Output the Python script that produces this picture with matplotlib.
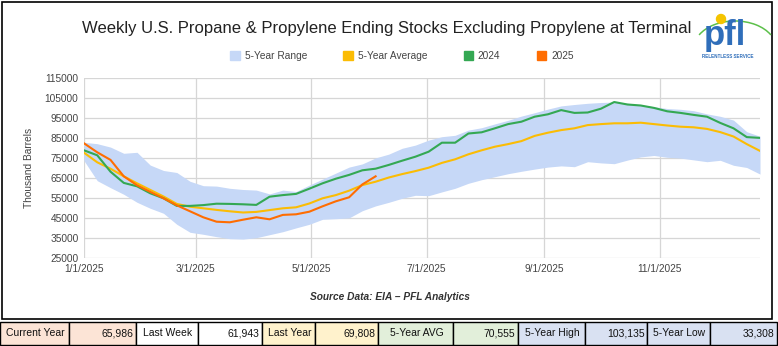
import numpy as np
import pandas as pd
import matplotlib
matplotlib.use('Agg')
import matplotlib.pyplot as plt
from matplotlib.patches import Rectangle, Patch, Circle, Arc

plt.rcParams['font.family'] = ['Liberation Sans', 'DejaVu Sans']

W, H = 778, 346

# weekly points, thousand barrels
weeks = pd.date_range('2025-01-01', periods=52, freq='7D')

range_high = [83000, 82300, 80600, 77500, 78000, 71600, 68900, 67900, 63500, 61300,
              61100, 60000, 59400, 59100, 57200, 59100, 58400, 61600, 64600, 67600,
              70600, 72200, 75200, 77100, 80000, 81600, 84100, 85800, 86500, 89100,
              90300, 92200, 94000, 96100, 97800, 99600, 101200, 101900, 102500, 102900,
              103135, 102500, 101700, 100800, 99900, 99500, 98800, 97200, 96000, 94100,
              88300, 86000]
range_low = [73800, 63800, 60300, 57000, 53000, 50000, 47500, 42000, 38000, 37000,
             35800, 34800, 34600, 35300, 36800, 38300, 40200, 42000, 44500, 44800,
             45200, 48800, 51200, 53000, 55000, 56500, 56300, 58200, 60000, 62500,
             64300, 65800, 67300, 68500, 69600, 70600, 71200, 70800, 73300, 72700,
             72300, 74100, 75700, 76400, 75500, 75100, 74200, 73300, 74000, 71500,
             70400, 67100]
avg_5yr = [77800, 73000, 69800, 66000, 62500, 59200, 55900, 52200, 50800, 50000,
           49200, 48500, 47900, 48200, 49100, 50000, 50500, 52400, 55000, 56600,
           58800, 61600, 63300, 65400, 67100, 68600, 70300, 72700, 74500, 77000,
           79000, 80800, 82100, 83600, 86200, 87800, 89100, 90000, 91600, 92100,
           92500, 92500, 92800, 92100, 91400, 90800, 90500, 89700, 88100, 85900,
           82100, 78700]
stocks_2024 = [79000, 76500, 68300, 62700, 61000, 57500, 55000, 51200, 51200, 51600,
               52300, 52200, 52000, 51700, 55800, 56600, 57200, 59800, 62500, 64800,
               66700, 69000, 69808, 71700, 73800, 75800, 78300, 82800, 82800, 87400,
               88000, 90000, 92100, 93300, 95800, 97000, 99100, 97700, 97900, 99800,
               103135, 101900, 101400, 100200, 98500, 97700, 96700, 95800, 92700, 90000,
               85600, 85200]
stocks_2025 = [82500, 78000, 74200, 66000, 61500, 58200, 55000, 51500, 48500, 45500,
               43300, 43000, 44300, 45500, 44500, 46700, 47000, 48300, 51000, 53500,
               55500, 61943, 65986]

x_ticks = pd.to_datetime(['2025-01-01', '2025-03-01', '2025-05-01',
                          '2025-07-01', '2025-09-01', '2025-11-01'])
y_ticks = list(range(25000, 115001, 10000))

table_labels = ['Current Year', 'Last Week', 'Last Year', '5-Year AVG', '5-Year High', '5-Year Low']
table_values = ['65,986', '61,943', '69,808', '70,555', '103,135', '33,308']
table_colors = ['#fce4d6', '#ffffff', '#fff2cc', '#e2efda', '#d9e1f2', '#d9e1f2']
cell_edges = [0, 69, 136, 198, 262, 315, 378, 453, 518, 585, 647, 710, 777]

c_range = '#c6d8f7'
c_avg = '#fbbc04'
c_2024 = '#34a853'
c_2025 = '#ff6d01'

fig = plt.figure(figsize=(W / 100, H / 100), dpi=100)
fig.patch.set_facecolor('white')

ax = fig.add_axes([84 / W, 1 - 258.3 / H, (760 - 84) / W, (258.3 - 78.3) / H])
ax.fill_between(weeks, range_low, range_high, color=c_range, lw=0, zorder=2)
ax.plot(weeks, avg_5yr, color=c_avg, lw=1.5, zorder=3)
ax.plot(weeks, stocks_2024, color=c_2024, lw=1.5, zorder=4)
ax.plot(weeks[:len(stocks_2025)], stocks_2025, color=c_2025, lw=1.5, zorder=5)

ax.set_xlim(weeks[0], weeks[-1])
ax.set_ylim(25000, 115000)
ax.set_yticks(y_ticks)
ax.set_yticklabels([str(v) for v in y_ticks])
ax.set_xticks(x_ticks)
ax.set_xticklabels([f'{d.month}/{d.day}/{d.year}' for d in x_ticks])
ax.tick_params(length=0, labelsize=7.3, colors='#444444', pad=4)
ax.grid(True, color='#d6d6d6', lw=0.9, zorder=1)
for s in ax.spines.values():
    s.set_visible(False)
ax.set_ylabel('Thousand Barrels', fontsize=7.3, color='#444444', labelpad=8)

fig.text(387 / W, 1 - 28 / H, 'Weekly U.S. Propane & Propylene Ending Stocks Excluding Propylene at Terminal',
         ha='center', va='center', fontsize=12, color='#222222')

handles = [Patch(color=c_range), Patch(color=c_avg), Patch(color=c_2024), Patch(color=c_2025)]
fig.legend(handles, ['5-Year Range', '5-Year Average', '2024', '2025'], loc='center',
           bbox_to_anchor=(402 / W, 1 - 56 / H), ncol=4, frameon=False, fontsize=7.3,
           handlelength=0.9, handleheight=0.9, handletextpad=0.5, columnspacing=3.6,
           labelcolor='#444444')

fig.text(390 / W, 1 - 297 / H, 'Source Data: EIA \u2013 PFL Analytics', ha='center', va='center',
         fontsize=7.3, fontweight='bold', fontstyle='italic', color='#333333')

# overlay in pixel units: frame, logo, summary table
ov = fig.add_axes([0, 0, 1, 1])
ov.set_xlim(0, W)
ov.set_ylim(H, 0)
ov.axis('off')
ov.add_patch(Rectangle((2, 2), 770, 317, fill=False, ec='black', lw=1.2))

ov.add_patch(Arc((735, 48), 82, 54, theta1=200, theta2=340, color='#5cc04a', lw=1.1))
ov.add_patch(Circle((721, 19), 4.5, color='#f5c400'))
ov.text(725, 45, 'pfl', ha='center', va='baseline', fontsize=25, fontweight='bold', color='#2f6eba')
ov.text(728, 56.5, 'RELENTLESS SERVICE', ha='center', va='center', fontsize=3.3,
        fontweight='bold', color='#2f6eba')

y0, y1 = 322, 345
for i, (lab, val, col) in enumerate(zip(table_labels, table_values, table_colors)):
    xa, xb, xc = cell_edges[2 * i], cell_edges[2 * i + 1], cell_edges[2 * i + 2]
    ov.add_patch(Rectangle((xa, y0), xb - xa, y1 - y0, fc=col, ec='black', lw=1))
    ov.add_patch(Rectangle((xb, y0), xc - xb, y1 - y0, fc=col, ec='black', lw=1))
    ov.text((xa + xb) / 2 + 1, (y0 + y1) / 2, lab, ha='center', va='center', fontsize=7.5, color='#111111')
    ov.text(xc - 2.5, (y0 + y1) / 2, val, ha='right', va='center', fontsize=7.5, color='#111111')

fig.savefig('out.png', dpi=100)
